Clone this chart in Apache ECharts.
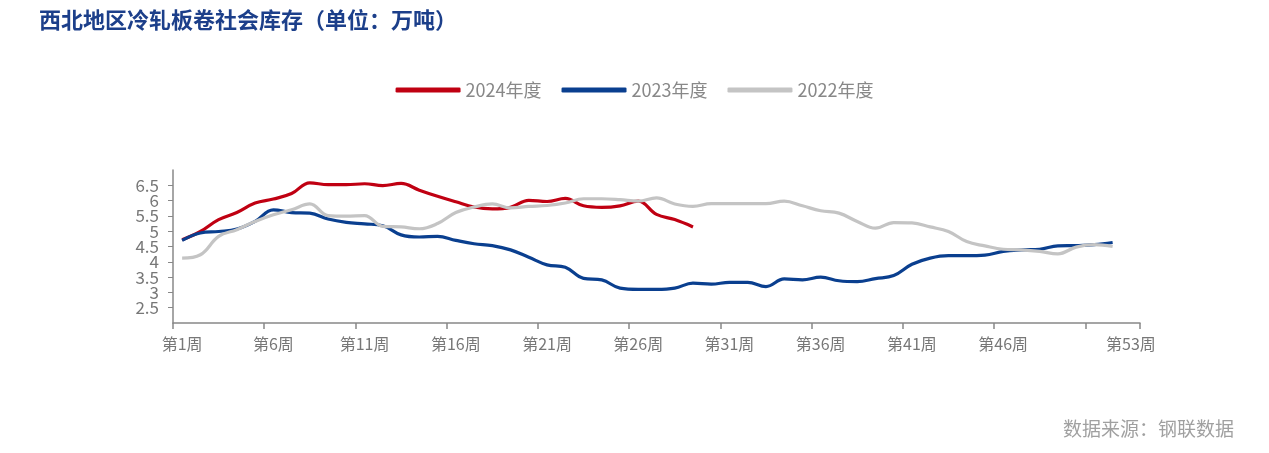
<!DOCTYPE html>
<html>
<head>
<meta charset="utf-8">
<script src="https://cdn.jsdelivr.net/npm/echarts@6/dist/echarts.min.js"></script>
<style>
html,body{margin:0;padding:0;background:#fff;}
#chart{width:1269px;height:453px;}
</style>
</head>
<body>
<div id="chart"></div>
<script>
// Categories (weeks)
const weeks = [];
for (let i = 1; i <= 53; i++) weeks.push('第' + i + '周');

// Series values (万吨)
const data2024 = [4.72,4.99,5.38,5.61,5.92,6.05,6.23,6.58,6.52,6.52,6.55,6.49,6.56,6.34,6.14,5.96,5.79,5.73,5.78,6.01,5.97,6.07,5.83,5.78,5.83,5.98,5.55,5.38,5.14];
const data2023 = [4.70,4.94,4.99,5.07,5.32,5.70,5.61,5.59,5.40,5.29,5.24,5.18,4.88,4.81,4.83,4.70,4.59,4.53,4.39,4.15,3.90,3.82,3.46,3.41,3.14,3.10,3.10,3.14,3.30,3.27,3.33,3.33,3.19,3.44,3.41,3.50,3.38,3.35,3.45,3.55,3.92,4.12,4.20,4.20,4.22,4.34,4.39,4.41,4.52,4.53,4.56,4.63];
const data2022 = [4.12,4.23,4.83,5.05,5.32,5.54,5.70,5.89,5.51,5.49,5.51,5.16,5.14,5.08,5.25,5.61,5.79,5.89,5.76,5.81,5.84,5.92,6.06,6.06,6.03,5.98,6.09,5.89,5.81,5.90,5.90,5.90,5.90,5.98,5.83,5.67,5.59,5.32,5.10,5.28,5.27,5.14,4.99,4.66,4.52,4.41,4.39,4.34,4.26,4.48,4.56,4.50];

const seriesNames = ['2024年度','2023年度','2022年度'];
const colors = ['#c00012','#0a3f8f','#c4c4c4'];

const FONT = '"Noto Sans CJK SC", "Noto Sans", sans-serif';

const chart = echarts.init(document.getElementById('chart'));
chart.setOption({
  animation: false,
  color: colors,
  title: [{
    text: '西北地区冷轧板卷社会库存（单位：万吨）',
    left: 34, top: 4,
    textStyle: {color: '#1c3f8a', fontSize: 22, fontWeight: 'bold', fontFamily: FONT}
  }, {
    text: '数据来源：钢联数据',
    right: 30, top: 414,
    textStyle: {color: '#a0a0a0', fontSize: 19, fontWeight: 'normal', fontFamily: FONT}
  }],
  legend: {
    data: seriesNames,
    top: 76,
    left: 'center',
    itemWidth: 65,
    itemHeight: 5,
    itemGap: 20,
    icon: 'roundRect',
    textStyle: {color: '#888', fontSize: 18, fontFamily: FONT}
  },
  grid: {left: 173, right: 129, top: 170, bottom: 130},
  xAxis: {
    type: 'category',
    data: weeks,
    boundaryGap: true,
    axisLine: {lineStyle: {color: '#888', width: 1.5}},
    axisTick: {
      show: true, length: 6,
      lineStyle: {color: '#888', width: 1.5},
      interval: function (i) { return i % 5 === 0; }
    },
    axisLabel: {
      color: '#777', fontSize: 16, fontFamily: FONT, margin: 13,
      interval: function (i) { return (i % 5 === 0 && i !== 50) || i === 52; }
    },
    splitLine: {show: false}
  },
  yAxis: {
    type: 'value',
    min: 2, max: 7, interval: 0.5,
    axisLine: {show: true, lineStyle: {color: '#888', width: 1.5}},
    axisTick: {show: true, length: 5, lineStyle: {color: '#888', width: 1}},
    axisLabel: {
      color: '#777', fontSize: 17, fontFamily: FONT, margin: 14,
      showMinLabel: false, showMaxLabel: false,
      formatter: function (v) { return String(v); }
    },
    splitLine: {show: false}
  },
  series: [
    {name: seriesNames[0], type: 'line', data: data2024, smooth: 0.4, showSymbol: false, symbol: 'none', lineStyle: {width: 3.2, color: colors[0]}},
    {name: seriesNames[1], type: 'line', data: data2023, smooth: 0.4, showSymbol: false, symbol: 'none', lineStyle: {width: 3.2, color: colors[1]}},
    {name: seriesNames[2], type: 'line', data: data2022, smooth: 0.4, showSymbol: false, symbol: 'none', lineStyle: {width: 3.2, color: colors[2]}}
  ]
});
</script>
</body>
</html>
